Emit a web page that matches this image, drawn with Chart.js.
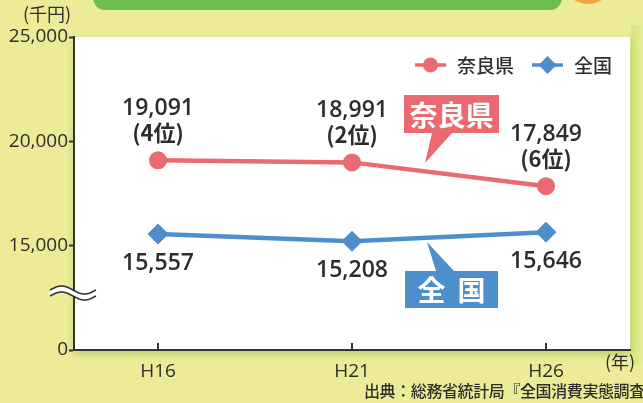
<!DOCTYPE html>
<html lang="ja">
<head>
<meta charset="utf-8">
<script src="https://cdn.jsdelivr.net/npm/chart.js@4"></script>
<style>
  html, body { margin: 0; padding: 0; background: #ECEB98; }
  #wrap { width: 643px; height: 403px; }
</style>
</head>
<body>
<div id="wrap"><canvas id="chart" width="643" height="403"></canvas></div>
<script>
// data
const years = ['H16', 'H21', 'H26'];
const naraValues = [19091, 18991, 17849];
const naraRanks = [4, 2, 6];
const zenkokuValues = [15557, 15208, 15646];
const yTicks = [10000, 15000, 20000, 25000];

const FONT = '"Open Sans", "Noto Sans CJK JP", sans-serif';
const JFONT = '"Noto Sans CJK JP", sans-serif';
const RED = '#EA6A70';
const BLUE = '#4E8FCB';
const TEXT = '#2f2c2c';

const decor = {
    id: 'decor',
    beforeDraw(chart) {
        const { ctx, chartArea: a } = chart;
        ctx.save();
        ctx.fillStyle = '#ECEB98';
        ctx.fillRect(0, 0, chart.width, chart.height);
        // header bar + orange disc
        ctx.fillStyle = '#6DBE4E';
        ctx.beginPath();
        ctx.roundRect(93, -20, 469, 30, 12);
        ctx.fill();
        ctx.fillStyle = '#F2A541';
        ctx.beginPath();
        ctx.arc(588, -22, 26, 0, Math.PI * 2);
        ctx.fill();
        // right strip
        const g = ctx.createLinearGradient(630, 0, 643, 0);
        g.addColorStop(0, '#D3E47C');
        g.addColorStop(1, '#E6EC95');
        ctx.fillStyle = g;
        ctx.fillRect(631, 25, 12, 340);
        // plot area
        ctx.shadowColor = 'rgba(120,170,40,0.45)';
        ctx.shadowBlur = 8;
        ctx.shadowOffsetY = 4;
        ctx.fillStyle = '#ffffff';
        ctx.fillRect(a.left, a.top, a.right - a.left, a.bottom - a.top);
        ctx.restore();
    },
    afterDatasetsDraw(chart) {
        const { ctx, chartArea: a, scales: { x, y } } = chart;
        ctx.save();
        // inner x ticks
        ctx.strokeStyle = '#333';
        ctx.lineWidth = 2;
        years.forEach((_, i) => {
            const px = x.getPixelForValue(i);
            ctx.beginPath();
            ctx.moveTo(px, a.bottom);
            ctx.lineTo(px, a.bottom - 7);
            ctx.stroke();
        });

        // value labels
        ctx.fillStyle = TEXT;
        ctx.textAlign = 'center';
        ctx.textBaseline = 'middle';
        naraValues.forEach((v, i) => {
            const px = x.getPixelForValue(i);
            const py = y.getPixelForValue(v);
            ctx.font = `600 23px ${FONT}`;
            ctx.fillText(v.toLocaleString('en-US'), px, py - 52);
            ctx.font = `bold 22px ${JFONT}`;
            ctx.fillText(`(${naraRanks[i]}位)`, px, py - 28);
        });
        ctx.font = `600 23px ${FONT}`;
        zenkokuValues.forEach((v, i) => {
            const px = x.getPixelForValue(i);
            const py = y.getPixelForValue(v);
            ctx.fillText(v.toLocaleString('en-US'), px, py + 29);
        });

        // callouts
        const callout = (label, color, bx, by, bw, bh, tipX, tipY, baseX1, baseX2, up, spaced) => {
            ctx.fillStyle = color;
            ctx.fillRect(bx, by, bw, bh);
            ctx.beginPath();
            const baseY = up ? by : by + bh;
            ctx.moveTo(baseX1, baseY);
            ctx.lineTo(tipX, tipY);
            ctx.lineTo(baseX2, baseY);
            ctx.closePath();
            ctx.fill();
            ctx.fillStyle = '#fff';
            ctx.font = `bold 28px ${JFONT}`;
            if (spaced) ctx.letterSpacing = '12px';
            ctx.fillText(label, bx + bw / 2 + (spaced ? 6 : 0), by + bh / 2 + 1);
            ctx.letterSpacing = '0px';
        };
        callout('奈良県', RED, 404, 95, 95, 38, 425, 163, 432, 452, false, false);
        callout('全国', BLUE, 405, 271, 93, 37, 427, 242, 436, 454, true, true);

        // legend
        const leg = [
            { label: chart.data.datasets[0].label, color: RED, style: 'circle', x: 415 },
            { label: chart.data.datasets[1].label, color: BLUE, style: 'diamond', x: 532 }
        ];
        ctx.font = `500 19px ${JFONT}`;
        ctx.textAlign = 'left';
        leg.forEach(l => {
            const ly = 65;
            ctx.strokeStyle = l.color;
            ctx.fillStyle = l.color;
            ctx.lineWidth = 3.5;
            ctx.beginPath();
            ctx.moveTo(l.x, ly);
            ctx.lineTo(l.x + 31, ly);
            ctx.stroke();
            ctx.beginPath();
            const cx = l.x + 15.5;
            if (l.style === 'circle') {
                ctx.arc(cx, ly, 7.5, 0, Math.PI * 2);
            } else {
                ctx.moveTo(cx, ly - 9);
                ctx.lineTo(cx + 9, ly);
                ctx.lineTo(cx, ly + 9);
                ctx.lineTo(cx - 9, ly);
                ctx.closePath();
            }
            ctx.fill();
            ctx.fillStyle = TEXT;
            ctx.fillText(l.label, l.x + 42, ly + 1);
        });

        // axis break mark
        const by = 293;
        const wave = (off) => {
            ctx.beginPath();
            for (let px = 50; px <= 96; px++) {
                const t = (px - 50) / 46 * Math.PI * 2;
                const yy = by + off - Math.sin(t) * 4;
                if (px === 50) ctx.moveTo(px, yy); else ctx.lineTo(px, yy);
            }
        };
        ctx.fillStyle = '#fff';
        ctx.beginPath();
        for (let px = 50; px <= 96; px++) {
            const t = (px - 50) / 46 * Math.PI * 2;
            ctx.lineTo(px, by - 3 - Math.sin(t) * 4);
        }
        for (let px = 96; px >= 50; px--) {
            const t = (px - 50) / 46 * Math.PI * 2;
            ctx.lineTo(px, by + 3 - Math.sin(t) * 4);
        }
        ctx.closePath();
        ctx.fill();
        ctx.strokeStyle = '#333';
        ctx.lineWidth = 1.6;
        wave(-3); ctx.stroke();
        wave(3); ctx.stroke();

        // unit labels and source
        ctx.fillStyle = TEXT;
        ctx.font = `18px ${JFONT}`;
        ctx.textAlign = 'left';
        ctx.fillText('(千円)', 23, 14);
        ctx.fillText('(年)', 605, 362);
        ctx.font = `500 16px ${JFONT}`;
        ctx.letterSpacing = '-0.4px';
        ctx.fillText('出典：総務省統計局『全国消費実態調査』', 364, 391);
        ctx.letterSpacing = '0px';
        ctx.restore();
    }
};

new Chart(document.getElementById('chart'), {
    type: 'line',
    data: {
        datasets: [
            {
                label: '奈良県',
                data: naraValues.map((v, i) => ({ x: i, y: v })),
                borderColor: RED,
                backgroundColor: RED,
                borderWidth: 4.5,
                pointStyle: 'circle',
                pointRadius: 8,
                pointBorderWidth: 2,
                tension: 0
            },
            {
                label: '全国',
                data: zenkokuValues.map((v, i) => ({ x: i, y: v })),
                borderColor: BLUE,
                backgroundColor: BLUE,
                borderWidth: 4.5,
                pointStyle: 'rectRot',
                pointRadius: 10,
                pointBorderWidth: 1,
                tension: 0
            }
        ]
    },
    plugins: [decor],
    options: {
        responsive: false,
        animation: false,
        devicePixelRatio: 1,
        layout: { padding: { top: 37, right: 13, left: 0, bottom: 0 } },
        plugins: { legend: { display: false }, tooltip: { enabled: false } },
        scales: {
            x: {
                type: 'linear',
                min: -0.433,
                max: 2.433,
                grid: { display: false },
                border: { display: true, color: '#333', width: 2 },
                ticks: {
                    stepSize: 1,
                    includeBounds: false,
                    autoSkip: false,
                    maxRotation: 0,
                    padding: 2,
                    color: TEXT,
                    font: { family: FONT, size: 19 },
                    callback: v => years[v] ?? ''
                },
                afterFit: s => { s.height = 53; }
            },
            y: {
                min: 10000,
                max: 25000,
                afterBuildTicks: s => { s.ticks = yTicks.map(v => ({ value: v })); },
                grid: { drawOnChartArea: false, tickLength: 5, tickWidth: 2, tickColor: '#333' },
                border: { display: true, color: '#333', width: 2 },
                ticks: {
                    padding: 1,
                    color: TEXT,
                    font: { family: FONT, size: 19 },
                    callback: v => v === 10000 ? '0' : v.toLocaleString('en-US')
                },
                afterFit: s => { s.width = 74; }
            }
        }
    }
});
</script>
</body>
</html>
